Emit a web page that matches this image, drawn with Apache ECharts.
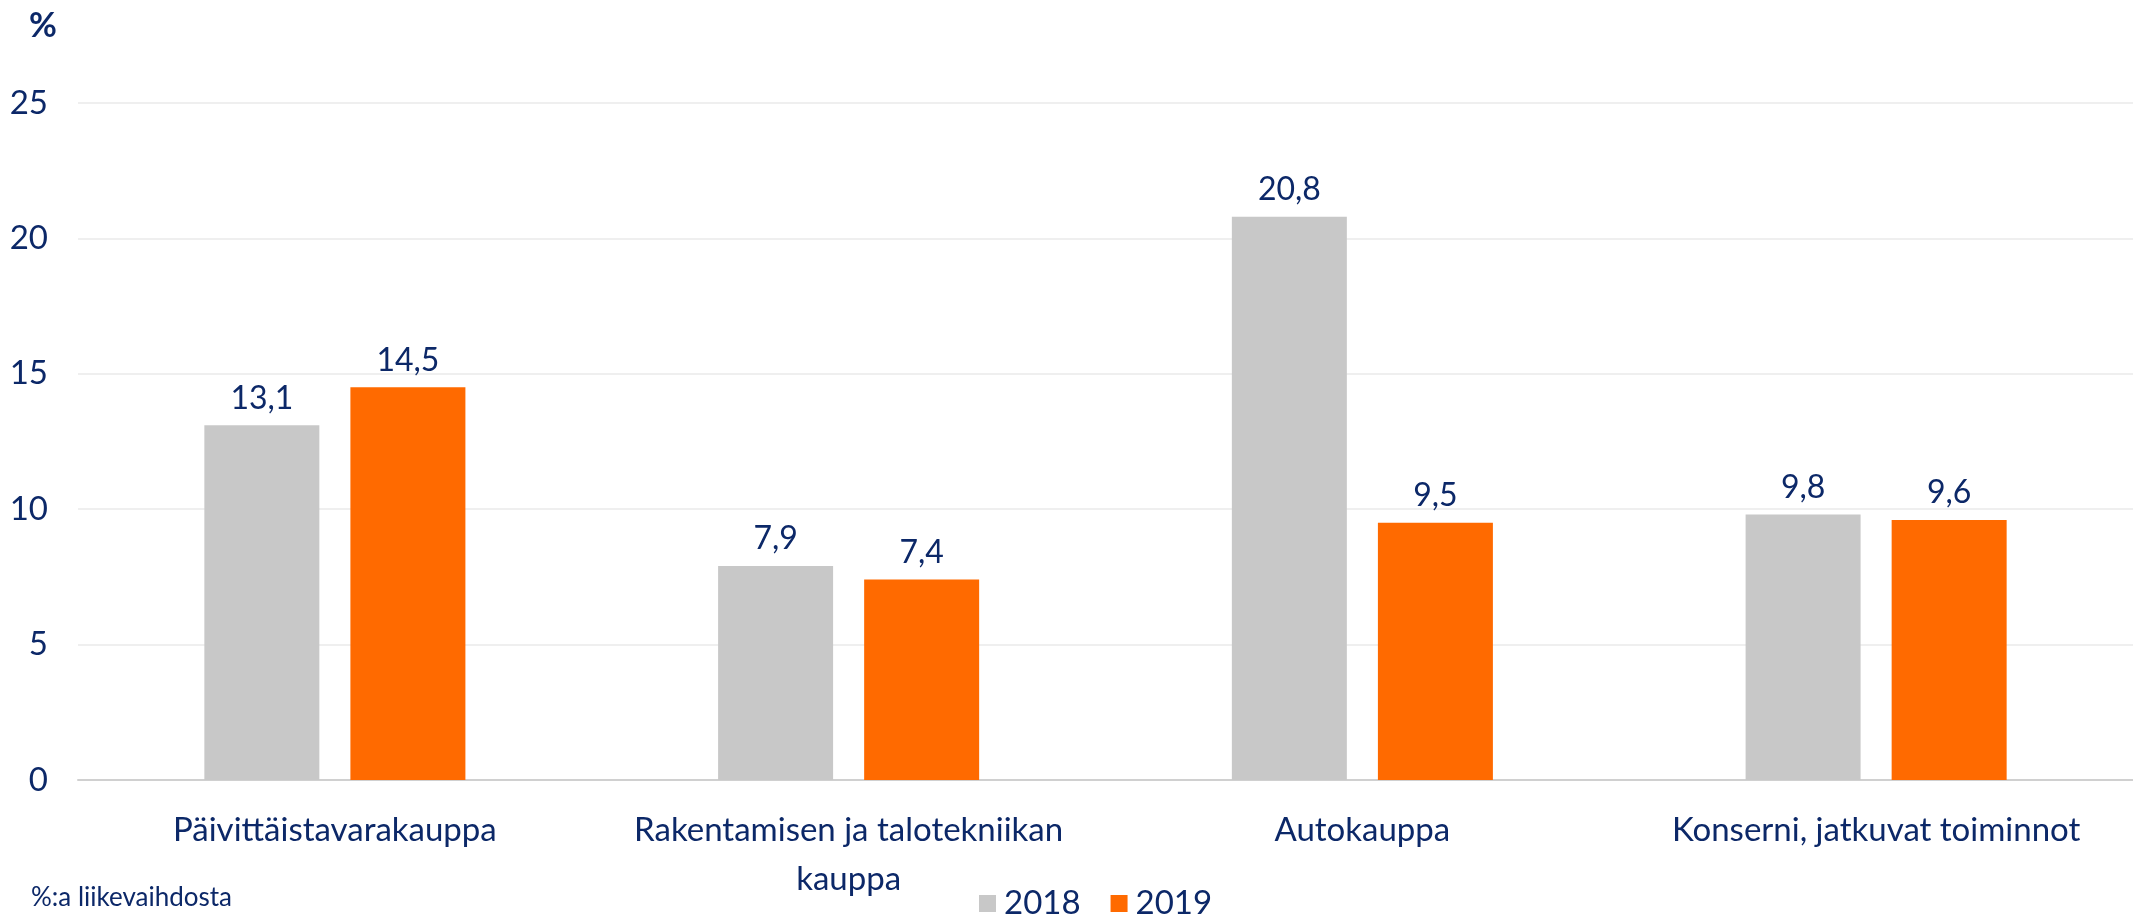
<!DOCTYPE html>
<html>
<head>
<meta charset="utf-8">
<script src="https://cdn.jsdelivr.net/npm/echarts@6/dist/echarts.min.js"></script>
<style>html,body{margin:0;padding:0;background:#fff;}#c{width:2133px;height:915px;}</style>
</head>
<body>
<div id="c"></div>
<script>
const categories = ["Päivittäistavarakauppa", "Rakentamisen ja talotekniikan\nkauppa", "Autokauppa", "Konserni, jatkuvat toiminnot"];
const seriesNames = ["2018", "2019"];
const values2018 = [13.1, 7.9, 20.8, 9.8];
const values2019 = [14.5, 7.4, 9.5, 9.6];
const yTicks = [0, 5, 10, 15, 20, 25];

const navy = '#0c2868';
const font = 'Lato';
const chart = echarts.init(document.getElementById('c'));
const fmt = p => String(p.value).replace('.', ',');
chart.setOption({
  animation: false,
  backgroundColor: '#fff',
  textStyle: { fontFamily: font, color: navy },
  grid: { left: 78, right: 0, top: 103, bottom: 135, containLabel: false },
  title: [
    { text: '%', left: 24, top: 4, textStyle: { fontFamily: font, fontSize: 34, fontWeight: 'bold', color: navy } },
    { text: '%:a liikevaihdosta', left: 26, top: 880, textStyle: { fontFamily: font, fontSize: 26, fontWeight: 'normal', color: navy } }
  ],
  legend: {
    data: seriesNames, left: 974, top: 882, itemWidth: 17, itemHeight: 17, itemGap: 30,
    icon: 'rect',
    textStyle: { fontFamily: font, fontSize: 33, color: navy, padding: [0, 0, 0, 3] }
  },
  xAxis: {
    type: 'category', data: categories,
    axisLine: { lineStyle: { color: '#d0d0d0', width: 2 } },
    axisTick: { show: false },
    axisLabel: { fontFamily: font, fontSize: 33, color: navy, margin: 26, lineHeight: 49, interval: 0 }
  },
  yAxis: {
    type: 'value', min: yTicks[0], max: yTicks[yTicks.length - 1], interval: 5,
    axisLine: { show: false }, axisTick: { show: false },
    axisLabel: { fontFamily: font, fontSize: 33, color: navy, margin: 30 },
    splitLine: { lineStyle: { color: '#efefef', width: 2 } }
  },
  series: [
    { name: seriesNames[0], type: 'bar', data: values2018, barWidth: 115, barGap: '27%',
      itemStyle: { color: '#c8c8c8' },
      label: { show: true, position: 'top', distance: 11, formatter: fmt, fontFamily: font, fontSize: 32, color: navy } },
    { name: seriesNames[1], type: 'bar', data: values2019, barWidth: 115,
      itemStyle: { color: '#ff6a00' },
      label: { show: true, position: 'top', distance: 11, formatter: fmt, fontFamily: font, fontSize: 32, color: navy } }
  ]
});
</script>
</body>
</html>
